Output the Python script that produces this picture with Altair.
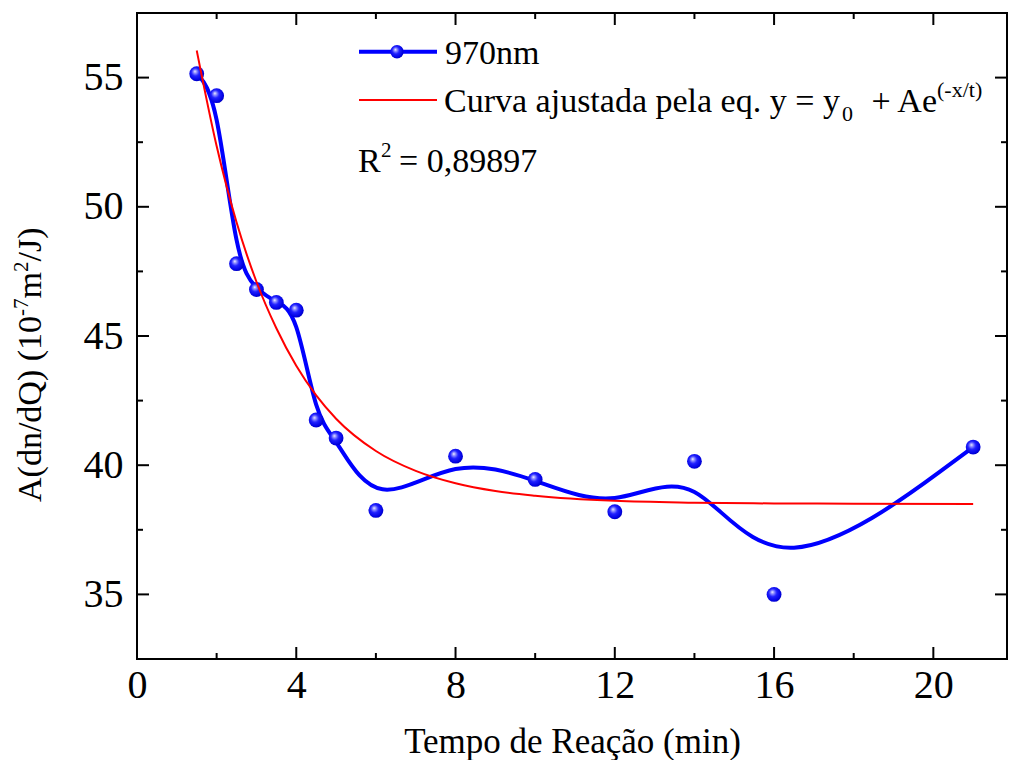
import altair as alt
import pandas as pd

# ---- data ----
tempo = [1.5, 2, 2.5, 3, 3.5, 4, 4.5, 5, 6, 8, 10, 12, 14, 16, 21]
absorb = [55.15, 54.3, 47.8, 46.8, 46.3, 46.0, 41.75, 41.05, 38.25, 40.35, 39.45, 38.2, 40.15, 35.0, 40.7]

# fitted curve (y = y0 + A e^(-x/t))
fit_x = [1.5, 2, 2.5, 3, 3.5, 4, 4.5, 5, 6, 7, 8, 9, 10, 12, 14, 16, 18, 21]
fit_y = [56.05, 52.35, 49.4, 47.1, 45.3, 43.85, 42.7, 41.8, 40.55, 39.78, 39.3, 39.0, 38.82, 38.62, 38.55, 38.52, 38.51, 38.5]

x_major = [0, 4, 8, 12, 16, 20]
x_minor = [2, 6, 10, 14, 18]
y_major = [35, 40, 45, 50, 55]
y_minor = [37.5, 42.5, 47.5, 52.5]

FONT = "Liberation Serif"
W, H = 870, 646

pts = pd.DataFrame({"t": tempo, "a": absorb})
fit = pd.DataFrame({"t": fit_x, "a": fit_y})
one = pd.DataFrame({"k": [0]})

xscale = alt.Scale(domain=[0, 21.85], nice=False, zero=False)
yscale = alt.Scale(domain=[32.5, 57.5], nice=False, zero=False)

x_axis = alt.Axis(values=x_major, labelFont=FONT, labelFontSize=40, labelColor="black",
                  labelPadding=6, labelFlush=False, labelOverlap=False, ticks=False, tickSize=0,
                  domain=False, grid=False, title="Tempo de Reação (min)", titleFont=FONT,
                  titleFontSize=35, titleFontWeight="normal", titleColor="black",
                  titleBaseline="alphabetic", titleY=93)
y_axis = alt.Axis(values=y_major, labelFont=FONT, labelFontSize=40, labelColor="black",
                  labelPadding=14, labelFlush=False, labelOverlap=False, ticks=False, tickSize=0,
                  domain=False, grid=False, title=None)

def X(field="t"):
    return alt.X(field, type="quantitative", scale=xscale, axis=x_axis)

def Y(field="a"):
    return alt.Y(field, type="quantitative", scale=yscale, axis=y_axis)

blue_line = alt.Chart(pts).mark_line(interpolate="basis", color="#0000ff", strokeWidth=4).encode(
    x=X(), y=Y())

sphere = {
    "gradient": "radial",
    "x1": 0.38, "y1": 0.34, "r1": 0.0,
    "x2": 0.45, "y2": 0.45, "r2": 0.6,
    "stops": [
        {"offset": 0.0, "color": "#ffffff"},
        {"offset": 0.15, "color": "#a0a0ff"},
        {"offset": 0.45, "color": "#2020ff"},
        {"offset": 0.85, "color": "#0000e0"},
        {"offset": 1.0, "color": "#0000a8"},
    ],
}

points = alt.Chart(pts).mark_circle(size=220, opacity=1, color=sphere).encode(x=X(), y=Y())

red_line = alt.Chart(fit).mark_line(interpolate="monotone", color="#ff0000", strokeWidth=2).encode(
    x=X(), y=Y())

# inward ticks on all four sides
xmaj = pd.DataFrame({"t": x_major})
xmin = pd.DataFrame({"t": x_minor})
ymaj = pd.DataFrame({"a": y_major})
ymin = pd.DataFrame({"a": y_minor})

def xticks(df, length):
    bottom = alt.Chart(df).mark_rule(color="black", strokeWidth=2).encode(
        x=X(), y=alt.value(H), y2=alt.value(H - length))
    top = alt.Chart(df).mark_rule(color="black", strokeWidth=2).encode(
        x=X(), y=alt.value(0), y2=alt.value(length))
    return [bottom, top]

def yticks(df, length):
    left = alt.Chart(df).mark_rule(color="black", strokeWidth=2).encode(
        y=Y(), x=alt.value(0), x2=alt.value(length))
    right = alt.Chart(df).mark_rule(color="black", strokeWidth=2).encode(
        y=Y(), x=alt.value(W), x2=alt.value(W - length))
    return [left, right]

ticks = xticks(xmaj, 12) + xticks(xmin, 6) + yticks(ymaj, 12) + yticks(ymin, 6)

# ---- legend ----
def txt(s, x, y, size, angle=0, align="left"):
    return alt.Chart(one).mark_text(text=s, font=FONT, fontSize=size, color="black", align=align,
                                    baseline="alphabetic", angle=angle).encode(
        x=alt.value(x), y=alt.value(y))

leg_blue = alt.Chart(one).mark_rule(color="#0000ff", strokeWidth=4).encode(
    x=alt.value(222), x2=alt.value(300), y=alt.value(38.7))
leg_dot = alt.Chart(one).mark_circle(size=180, opacity=1, color=sphere).encode(
    x=alt.value(260), y=alt.value(38.7))
leg_red = alt.Chart(one).mark_rule(color="#ff0000", strokeWidth=2).encode(
    x=alt.value(222), x2=alt.value(300), y=alt.value(87))

legend = [
    leg_blue, leg_dot, leg_red,
    txt("970nm", 308, 51, 34),
    txt("Curva ajustada pela eq. y = y", 307, 99, 34),
    txt("0", 705, 108, 22),
    txt("+ Ae", 800, 99, 34, align="right"),
    txt("(-x/t)", 800, 84, 22),
    txt("R", 221, 159, 34),
    txt("2", 244, 144, 21),
    txt("= 0,89897", 262, 159, 34),
]

# ---- y axis title (with superscripts) ----
ytitle = [
    txt("A(dn/dQ) (10", -96, 489, 34, 270),
    txt("-7", -109.5, 303, 21, 270),
    txt("m", -96, 285.5, 34, 270),
    txt("2", -109.5, 259, 21, 270),
    txt("/J)", -96, 248.5, 34, 270),
]

chart = alt.layer(blue_line, points, red_line, *ticks, *legend, *ytitle).properties(
    width=W, height=H,
    autosize=alt.AutoSizeParams(type="none"),
    padding={"left": 137, "top": 13, "right": 2, "bottom": 101},
    background="white",
).configure_view(stroke="black", strokeWidth=2)

chart.save("out.html", embed_options={"renderer": "svg", "actions": False})
